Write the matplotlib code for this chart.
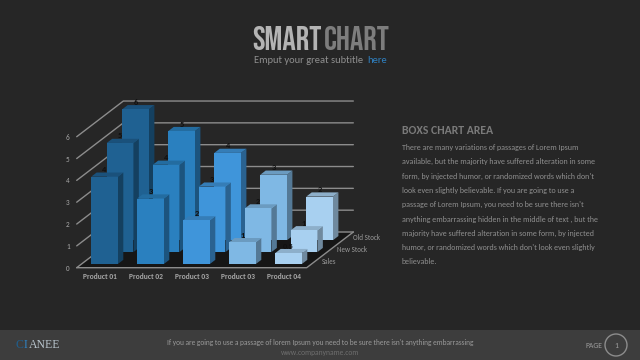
#!/usr/bin/env python3
import matplotlib
matplotlib.use('Agg')
import matplotlib.pyplot as plt
from matplotlib import font_manager as fm
from matplotlib.colors import to_rgb
from matplotlib.patches import Polygon, Rectangle, Circle

W, H = 640, 360

# chart values
products = ['Product 01', 'Product 02', 'Product 03', 'Product 03', 'Product 04']
series_names = ['Sales', 'New Stock', 'Old Stock']
sales = [4, 3, 2, 1, 0.5]
new_stock = [5, 4, 3, 2, 1]
old_stock = [6, 5, 4, 3, 2]
value_ticks = [0, 1, 2, 3, 4, 5, 6]
bar_colors = ['#1f6192', '#2a80bf', '#3f95da', '#7fb8e4', '#a8d0f0']

paragraph = [
    "There are many variations of passages of Lorem Ipsum",
    "available, but the majority have suffered alteration in some",
    "form, by injected humor, or randomized words which don't",
    "look even slightly believable. If you are going to use a",
    "passage of Lorem Ipsum, you need to be sure there isn't",
    "anything embarrassing hidden in the middle of text , but the",
    "majority have suffered alteration in some form, by injected",
    "humor, or randomized words which don't look even slightly",
    "believable.",
]


def pick(*names):
    have = {f.name for f in fm.fontManager.ttflist}
    for name in names:
        if name in have:
            return name
    return 'DejaVu Sans'


BODY = pick('Carlito', 'Lato')
TITLE = pick('Bebas Neue', 'Oswald', 'Archivo Narrow', 'Liberation Sans Narrow', 'Liberation Sans')
plt.rcParams['font.family'] = [BODY, 'DejaVu Sans']

fig = plt.figure(figsize=(6.4, 3.6), dpi=100, facecolor='#262626')


def ftext(x, y, s, **kw):
    kw.setdefault('va', 'center')
    return fig.text(x / W, 1 - y / H, s, **kw)


# footer band
fig.add_artist(Rectangle((0, 0), 1, 30 / H, transform=fig.transFigure,
                         facecolor='#3d3d3d', edgecolor='none', zorder=-1))

# chart axes: x in categories, y in value units, origin on the front left corner
left, bottom = 76.7, 267.7
right, top = 400, 90
ax = fig.add_axes([left / W, 1 - bottom / H, (right - left) / W, (bottom - top) / H])
ax.set_xlim(0, (right - left) / 46.0)
ax.set_ylim(0, (bottom - top) / 21.83)
ax.patch.set_alpha(0)
for s in ax.spines.values():
    s.set_visible(False)

# oblique depth, per series step
DX = 0.338
DY = 0.545


def project(x, v, d):
    return x + DX * d, v + DY * d


def face(points, color, z):
    ax.add_patch(Polygon([project(*p) for p in points], closed=True, facecolor=color,
                         edgecolor='none', zorder=z, clip_on=False))


def shade(color, k):
    return tuple(c * k for c in to_rgb(color))


# floor
n = len(products)
depth = len(series_names)
face([(0, 0, 0), (n, 0, 0), (n, 0, depth), (0, 0, depth)], '#161616', 1)
line_kw = dict(color='#8c8c8c', lw=1.0, clip_on=False, solid_capstyle='round')
for v in value_ticks:
    xs, ys = zip(project(0, v, 0), project(0, v, depth), project(n, v, depth))
    ax.plot(xs, ys, zorder=2, **line_kw)
xs, ys = zip(project(0, 0, 0), project(n, 0, 0), project(n, 0, depth))
ax.plot(xs, ys, zorder=2, **line_kw)

# bars, back row first
bar_w = 0.58
d0, d1 = 0.31, 0.66
for j, vals in reversed(list(enumerate([sales, new_stock, old_stock]))):
    for i, v in enumerate(vals):
        x0 = i + 0.5 - bar_w / 2
        x1 = x0 + bar_w
        z = 10 + (depth - j) * 3
        c = bar_colors[i]
        face([(x1, 0, j + d0), (x1, 0, j + d1), (x1, v, j + d1), (x1, v, j + d0)], shade(c, 0.66), z)
        face([(x0, v, j + d0), (x1, v, j + d0), (x1, v, j + d1), (x0, v, j + d1)], shade(c, 0.84), z)
        face([(x0, 0, j + d0), (x1, 0, j + d0), (x1, v, j + d0), (x0, v, j + d0)], c, z + 1)
        lx, ly = project(i + 0.5, v + 0.32, j + d0)
        ax.text(lx, ly, f'{v:g}', ha='center', va='center', fontsize=6, fontweight='bold',
                color='#101010', zorder=z + 2)

ax.set_xticks([i + 0.5 for i in range(n)], products)
ax.set_yticks(value_ticks, [str(v) for v in value_ticks])
ax.tick_params(axis='x', length=0, pad=3.5, labelsize=5.4, labelcolor='#a6a6a6')
ax.tick_params(axis='y', length=0, pad=5, labelsize=5.2, labelcolor='#a6a6a6')
for lab in ax.get_xticklabels():
    lab.set_fontweight('bold')

for j, name in enumerate(series_names):
    lx, ly = project(n + 0.16, 0, j + 0.5)
    ax.text(lx, ly, name, ha='left', va='center', fontsize=5, color='#9a9a9a', clip_on=False)

# header
ftext(252, 38, 'SMART', family=TITLE, fontsize=24, color='#b4b4b4')
ftext(324, 38, 'CHART', family=TITLE, fontsize=24, color='#7d7d7d')
ftext(254, 60.5, 'Emput your great subtitle', fontsize=7.6, color='#8f8f8f')
ftext(367, 60.5, 'here', fontsize=7.6, color='#2f80c0')

# side text
ftext(402, 130, 'BOXS CHART AREA', fontsize=8.5, fontweight='bold', color='#7a7a7a')
for i, line in enumerate(paragraph):
    ftext(402, 147.5 + i * 14.3, line, fontsize=5.8, color='#8f8f8f')

# footer text
ftext(16, 345, 'C', family='Liberation Serif', fontsize=8.5, color='#1f5f8e')
ftext(24, 345, 'I', family='Liberation Serif', fontsize=8.5, color='#2f86c8')
ftext(29, 345, 'ANEE', family='Liberation Serif', fontsize=8.5, color='#b8c4cc')
ftext(320, 343, "If you are going to use a passage of lorem Ipsum you need to be sure there isn't anything embarrassing",
      ha='center', fontsize=5.3, color='#9a9a9a')
ftext(320, 352, 'www.companyname.com', ha='center', fontsize=5.4, color='#6f6f6f')
ftext(585, 345, 'PAGE', fontsize=5.6, color='#9a9a9a')
circ_ax = fig.add_axes([604 / W, 1 - 357 / H, 24 / W, 24 / H])
circ_ax.set_xlim(-12, 12)
circ_ax.set_ylim(-12, 12)
circ_ax.axis('off')
circ_ax.add_patch(Circle((0, 0), 11, facecolor='none', edgecolor='#8c8c8c', lw=1))
circ_ax.text(0, 0, '1', ha='center', va='center', fontsize=5.6, color='#9a9a9a')

fig.savefig('out.png', dpi=100, facecolor=fig.get_facecolor())
